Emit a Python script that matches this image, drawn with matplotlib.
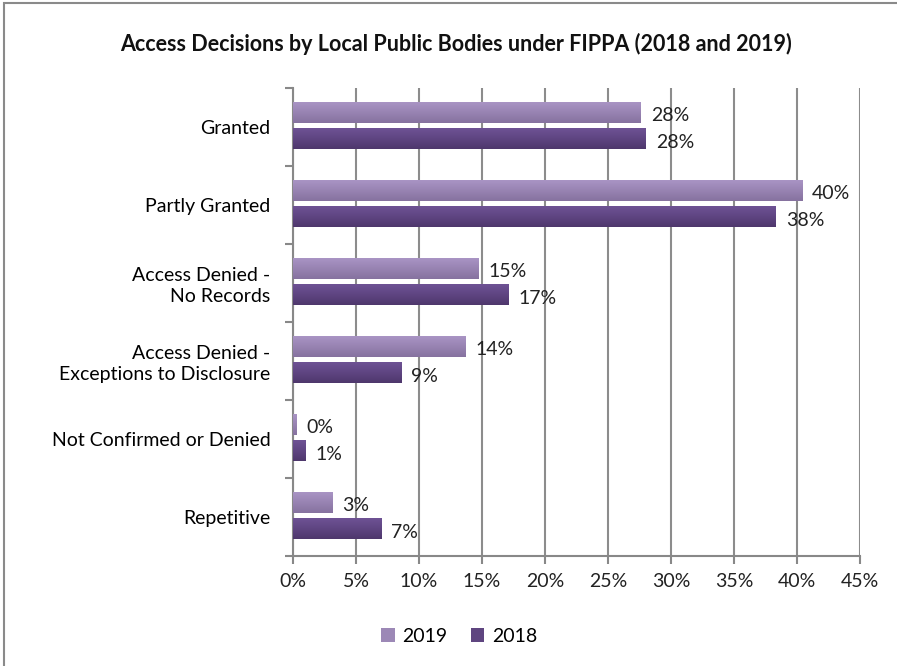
import matplotlib.pyplot as plt
import numpy as np
from matplotlib.patches import Rectangle
from matplotlib.colors import LinearSegmentedColormap

plt.rcParams['font.family'] = ['Lato', 'DejaVu Sans']

categories = ['Granted', 'Partly Granted', 'Access Denied -\nNo Records',
              'Access Denied -\nExceptions to Disclosure', 'Not Confirmed or Denied',
              'Repetitive']
v2019 = [27.6, 40.4, 14.7, 13.7, 0.3, 3.1]
v2018 = [28.0, 38.3, 17.1, 8.6, 1.0, 7.0]
lab2019 = ['28%', '40%', '15%', '14%', '0%', '3%']
lab2018 = ['28%', '38%', '17%', '9%', '1%', '7%']

c2019 = '#9c88b6'
c2018 = '#5f4580'
g2019 = LinearSegmentedColormap.from_list('g19', ['#a994c4', '#9883b2', '#86729f'])
g2018 = LinearSegmentedColormap.from_list('g18', ['#6e5294', '#5f4582', '#4e376c'])

fig = plt.figure(figsize=(8.97, 6.66), dpi=100)
ax = fig.add_axes([0.3266, 0.1652, 0.6322, 0.7027])

y = np.arange(len(categories))
h = 0.263
b19 = ax.barh(y - 0.183, v2019, height=h, color=c2019, label='2019', zorder=3)
b18 = ax.barh(y + 0.155, v2018, height=h, color=c2018, label='2018', zorder=3)

grad = np.linspace(0, 1, 50).reshape(-1, 1)
for bars, cmap in [(b19, g2019), (b18, g2018)]:
    for bar in bars:
        x0, y0, w, hh = bar.get_x(), bar.get_y(), bar.get_width(), bar.get_height()
        ax.imshow(grad, cmap=cmap, aspect='auto', zorder=3.5,
                  extent=(x0, x0 + w, y0 + hh, y0), interpolation='bicubic')

for bar, t in zip(b19, lab2019):
    ax.text(bar.get_width() + 0.8, bar.get_y() + bar.get_height() / 2 + 0.04, t,
            va='center', ha='left', fontsize=14, color='#222222', zorder=5)
for bar, t in zip(b18, lab2018):
    ax.text(bar.get_width() + 0.8, bar.get_y() + bar.get_height() / 2 + 0.04, t,
            va='center', ha='left', fontsize=14, color='#222222', zorder=5)

ax.set_ylim(len(categories) - 0.5, -0.5)
ax.set_xlim(0, 45)
ax.set_xticks(np.arange(0, 46, 5))
ax.set_xticklabels([f'{v}%' for v in range(0, 46, 5)], fontsize=14)
ax.set_yticks(y)
ax.set_yticklabels(categories, fontsize=14, linespacing=1.25)
ax.set_yticks(np.arange(-0.5, len(categories), 1), minor=True)
ax.tick_params(axis='y', which='major', length=0, pad=16)
ax.tick_params(axis='y', which='minor', length=6, color='#888888', width=1.5, direction='out')
ax.tick_params(axis='x', length=6, width=1.5, pad=6, colors='#222222')
ax.tick_params(axis='x', color='#888888')
ax.set_aspect('auto')

ax.grid(axis='x', color='#8c8c8c', linewidth=1.5, zorder=0)
for s in ['top', 'right']:
    ax.spines[s].set_visible(False)
for s in ['left', 'bottom']:
    ax.spines[s].set_color('#888888')
    ax.spines[s].set_linewidth(1.5)

fig.text(0.508, 0.934, 'Access Decisions by Local Public Bodies under FIPPA (2018 and 2019)',
         ha='center', va='center', fontsize=15.5, fontweight='bold', color='#111111')

fig.legend(handles=[b19, b18], loc='center', bbox_to_anchor=(0.512, 0.045), ncol=2,
           frameon=False, fontsize=14, handlelength=0.7, handleheight=0.7,
           columnspacing=1.2, handletextpad=0.4)

fig.patches.append(Rectangle((0.005, -0.01), 1.2, 1.005, transform=fig.transFigure,
                             fill=False, edgecolor='#8a8a8a', linewidth=1.5))

fig.savefig('out.png', dpi=100)
